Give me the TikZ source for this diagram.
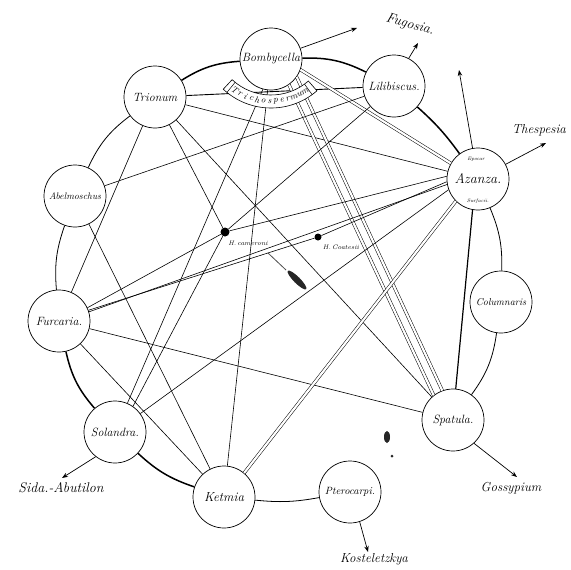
\documentclass[tikz,border=0pt]{standalone}
\usetikzlibrary{arrows.meta}
\begin{document}
\begin{tikzpicture}[x=1pt,y=-1pt,
  sec/.style={circle,draw,line width=0.7pt,fill=white,minimum size=62pt,inner sep=0pt,font=\fontsize{12}{13}\selectfont\itshape},
  chord/.style={line width=0.6pt},
  dbl/.style={line width=0.5pt,double,double distance=2.2pt},
  rim/.style={line width=0.8pt},
  thickrim/.style={line width=1.5pt},
  outarrow/.style={line width=0.7pt,-{Stealth[length=6pt,width=4.5pt]}},
  lab/.style={font=\fontsize{13}{15}\selectfont\itshape},
  small/.style={font=\fontsize{5}{6}\selectfont\itshape,inner sep=0pt},
  bandletter/.style={font=\fontsize{9}{9}\selectfont\itshape,inner sep=0pt}]
\useasboundingbox (0,0) rectangle (571,570);
% section circles
\node[sec] (bomb) at (271,59) {Bombycella};
\node[sec] (lili) at (394,86) {Lilibiscus.};
\node[sec] (azan) at (478,179) {\fontsize{14}{15}\selectfont Azanza.};
\node[sec,font=\fontsize{10}{11}\selectfont\itshape] (colu) at (501,302) {Columnaris};
\node[sec] (spat) at (453,420) {Spatula.};
\node[sec,font=\fontsize{10.5}{11}\selectfont\itshape] (pter) at (350,492) {Pterocarpi.};
\node[sec] (ketm) at (224,497) {\fontsize{13}{14}\selectfont Ketmia};
\node[sec] (sola) at (115,432) {Solandra.};
\node[sec] (furc) at (59,321) {Furcaria.};
\node[sec,font=\fontsize{9.5}{11}\selectfont\itshape] (abel) at (75,196) {Abelmoschus};
\node[sec] (trio) at (155,97) {Trionum};
\node[small] (eq) at (476,159) {Epocar};
\node[small] (sf) at (478,201) {Surfacii.};
% dots
\node[circle,fill=black,minimum size=9pt,inner sep=0pt] (cam) at (225,232) {};
\node[circle,fill=black,minimum size=7pt,inner sep=0pt] (coa) at (318,237) {};
\node[font=\fontsize{6.5}{7}\selectfont\itshape] (camt) at (248,243) {H.\,cameroni};
\node[font=\fontsize{6.5}{7}\selectfont\itshape] (coat) at (341,247) {H.\,Coatesii};
% chords
\draw[line width=0.9pt] (trio) -- (lili);
\draw[chord] (trio) -- (azan);
\draw[chord] (trio) -- (furc);
\draw[chord] (trio) -- (spat);
\draw[chord] (trio) -- (cam);
\draw[chord] (bomb) -- (ketm);
\draw[chord] (bomb.-105) -- (sola);
\draw[dbl] (bomb.-20) -- (azan.150);
\draw[dbl] (bomb.-55) -- (spat.128);
\draw[dbl] (bomb.-35) -- (spat.110);
\draw[chord] (abel) -- (lili);
\draw[chord] (abel) -- (ketm);
\draw[chord] (lili) -- (cam);
\draw[chord] (cam) -- (azan.175);
\draw[chord] (cam) -- (furc.25);
\draw[chord] (cam) -- (sola.55);
\draw[chord] (furc.20) -- (coa) -- (azan.185);
\draw[chord] (furc.17) -- (azan.190);
\draw[chord] (furc) -- (spat);
\draw[chord] (furc) -- (ketm);
\draw[chord] (sola) -- (azan.200);
\draw[dbl] (ketm.50) -- (azan.225);
\draw[line width=1.2pt] (spat.85) -- (azan.-100);
% Trichospermum band
\fill[white] ([shift={(227:57pt)}]271,38) arc[start angle=227,end angle=311,radius=57pt] -- ([shift={(311:70pt)}]271,38) arc[start angle=311,end angle=227,radius=70pt] -- cycle;
\draw[line width=0.6pt] ([shift={(227:57pt)}]271,38) arc[start angle=227,end angle=311,radius=57pt] -- ([shift={(311:70pt)}]271,38) arc[start angle=311,end angle=227,radius=70pt] -- cycle;
\foreach \a in {231,306} \draw[line width=0.5pt] ([shift={(\a:57pt)}]271,38) -- ([shift={(\a:70pt)}]271,38);
\foreach \l [count=\i] in {T,r,i,c,h,o,s,p,e,r,m,u,m} {
  \pgfmathsetmacro{\ang}{235+(\i-1)*5.6}
  \pgfmathsetmacro{\rot}{\ang+90}
  \node[bandletter,rotate=\rot] (tl\i) at ([shift={(\ang:63.5pt)}]271,38) {\l};
}
% outer arcs
\draw[thickrim] (bomb) to[bend right=14] (trio);
\draw[thickrim] (bomb) to[bend left=14] (lili);
\draw[rim] (trio) to[bend right=14] (abel);
\draw[rim] (abel) to[bend right=12] (furc);
\draw[thickrim] (furc) to[bend right=14] (sola);
\draw[thickrim] (sola) to[bend right=12] (ketm);
\draw[rim] (ketm) to[bend right=8] (pter);
\draw[rim] (spat) to[bend right=14] (colu);
\draw[rim] (colu) to[bend right=12] (azan);
\draw[thickrim] (azan) to[bend right=6] (lili);
% outgoing arrows and labels
\node[lab,font=\fontsize{14}{15}\selectfont\itshape,rotate=-16] (fug) at (410,25) {Fugosia.};
\coordinate (bt) at (357,28);
\draw[outarrow] (bomb.20) -- (bt);
\coordinate (lt) at (418,43);
\draw[outarrow] (lili.62) -- (lt);
\coordinate (at) at (459,70);
\draw[outarrow] (azan.100) -- (at);
\node[lab] (thes) at (539,130) {Thespesia};
\coordinate (tt) at (546,143);
\draw[outarrow] (azan.28) -- (tt);
\node[lab] (goss) at (511,488) {Gossypium};
\coordinate (gt) at (517,477);
\draw[outarrow] (spat.-48) -- (gt);
\node[lab] (kost) at (374,559) {Kosteletzkya};
\coordinate (kt) at (368,552);
\draw[outarrow] (pter.-72) -- (kt);
\node[lab,font=\fontsize{14}{15}\selectfont\itshape] (sida) at (61,488) {Sida.-Abutilon};
\coordinate (st) at (62,478);
\draw[outarrow] (sola.-128) -- (st);
% stains
\fill[black!85,rotate around={-45:(297,280)}] (297,280) ellipse[x radius=13pt,y radius=3.2pt];
\draw[black!70,line width=0.8pt] (268,253) -- (286,270);
\fill[black!85] (387,437) ellipse[x radius=3pt,y radius=6pt];
\fill[black!85] (392,456) circle[radius=1.5pt];
\end{tikzpicture}
\end{document}
